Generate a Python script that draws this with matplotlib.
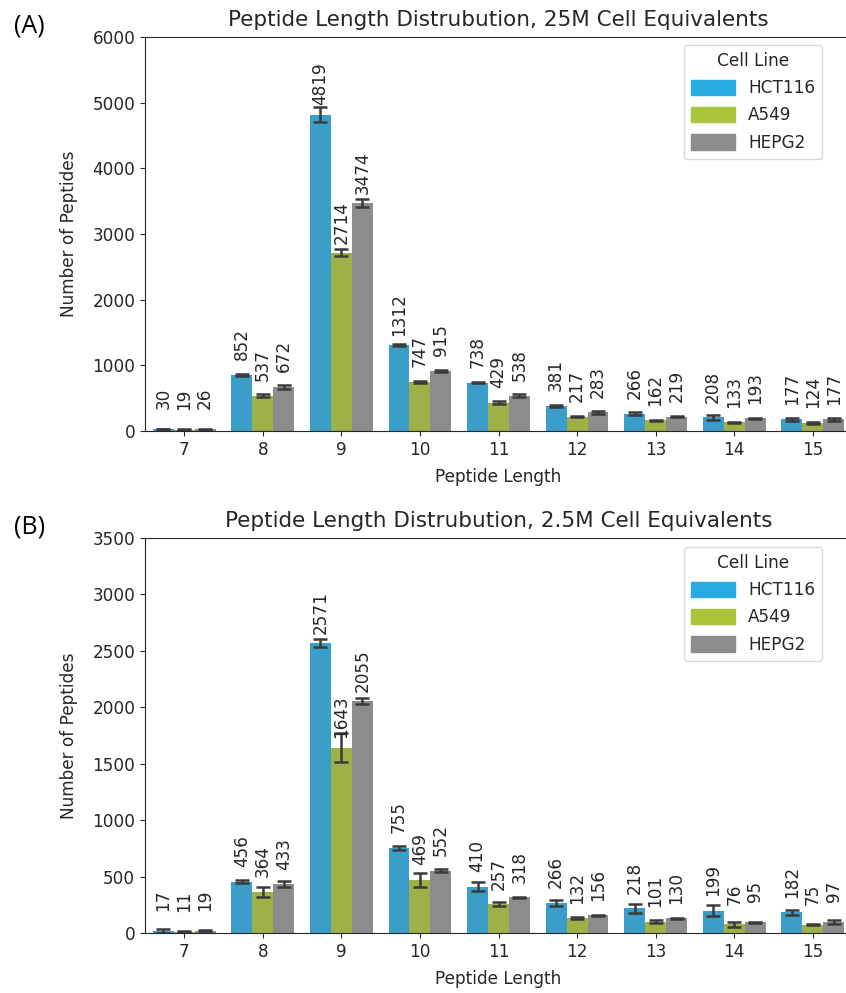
import numpy as np
import matplotlib.pyplot as plt
from matplotlib.patches import Patch

lengths = ["7", "8", "9", "10", "11", "12", "13", "14", "15"]
cell_lines = ["HCT116", "A549", "HEPG2"]

# 25M cell equivalents
a_hct = [30, 852, 4819, 1312, 738, 381, 266, 208, 177]
a_a549 = [19, 537, 2714, 747, 429, 217, 162, 133, 124]
a_hepg2 = [26, 672, 3474, 915, 538, 283, 219, 193, 177]
a_hct_err = [5, 10, 115, 15, 10, 10, 20, 35, 25]
a_a549_err = [5, 25, 50, 10, 25, 8, 10, 8, 20]
a_hepg2_err = [5, 25, 60, 20, 20, 20, 10, 8, 20]

# 2.5M cell equivalents
b_hct = [17, 456, 2571, 755, 410, 266, 218, 199, 182]
b_a549 = [11, 364, 1643, 469, 257, 132, 101, 76, 75]
b_hepg2 = [19, 433, 2055, 552, 318, 156, 130, 95, 97]
b_hct_err = [15, 15, 35, 20, 40, 30, 40, 45, 20]
b_a549_err = [5, 45, 130, 60, 20, 10, 10, 25, 8]
b_hepg2_err = [5, 25, 25, 15, 5, 5, 5, 5, 15]

legend_colors = ["#29abe2", "#a8c43a", "#8c8c8c"]
bar_colors = ["#3b9ec8", "#9fb048", "#8c8c8c"]
txt = "#262626"
fs = 12.2

plt.rcParams["font.family"] = "DejaVu Sans"
plt.rcParams["text.color"] = txt
plt.rcParams["axes.labelcolor"] = txt
plt.rcParams["xtick.color"] = txt
plt.rcParams["ytick.color"] = txt
plt.rcParams["axes.edgecolor"] = txt

fig = plt.figure(figsize=(8.46, 9.93), dpi=100)
W, H = 846, 993


def panel(top, bottom, title, series, errs, ymax, ystep, tag, leg_top):
    ax = fig.add_axes([145 / W, 1 - bottom / H, (852 - 145) / W, (bottom - top) / H])
    x = np.arange(len(lengths))
    w = 0.8 / 3
    for i, (vals, err) in enumerate(zip(series, errs)):
        xs = x + (i - 1) * w
        ax.bar(xs, vals, w, color=bar_colors[i], yerr=err, capsize=5,
               error_kw=dict(ecolor="#3a3a3a", elinewidth=1.8, capthick=1.8))
        for xi, v in zip(xs, vals):
            ax.annotate(str(v), (xi, v), xytext=(0, 22), textcoords="offset points",
                        rotation=90, ha="center", va="center", fontsize=fs)
    ax.set_xlim(-0.5, len(lengths) - 0.5)
    ax.set_ylim(0, ymax)
    ax.set_yticks(np.arange(0, ymax + 1, ystep))
    ax.set_xticks(x)
    ax.set_xticklabels(lengths)
    ax.tick_params(labelsize=fs)
    ax.set_xlabel("Peptide Length", fontsize=fs, labelpad=7)
    ax.set_ylabel("Number of Peptides", fontsize=fs, labelpad=10)
    ax.set_title(title, fontsize=15.5, pad=8)
    handles = [Patch(color=c, label=l) for c, l in zip(legend_colors, cell_lines)]
    ax.legend(handles=handles, title="Cell Line", fontsize=fs, title_fontsize=fs,
              loc="upper right", bbox_to_anchor=(822 / W, 1 - leg_top / H),
              bbox_transform=fig.transFigure, borderaxespad=0, handlelength=2.6,
              handleheight=1.0, labelspacing=0.55, edgecolor="#d0d0d0")
    fig.text(14 / W, 1 - (top - 11) / H, tag, fontsize=18, family="Open Sans",
             va="center", ha="left", color="black")
    return ax


panel(37, 431, "Peptide Length Distrubution, 25M Cell Equivalents",
      [a_hct, a_a549, a_hepg2], [a_hct_err, a_a549_err, a_hepg2_err],
      6000, 1000, "(A)", 45)
panel(538, 933, "Peptide Length Distrubution, 2.5M Cell Equivalents",
      [b_hct, b_a549, b_hepg2], [b_hct_err, b_a549_err, b_hepg2_err],
      3500, 500, "(B)", 547)

fig.savefig("out.png", dpi=100)
